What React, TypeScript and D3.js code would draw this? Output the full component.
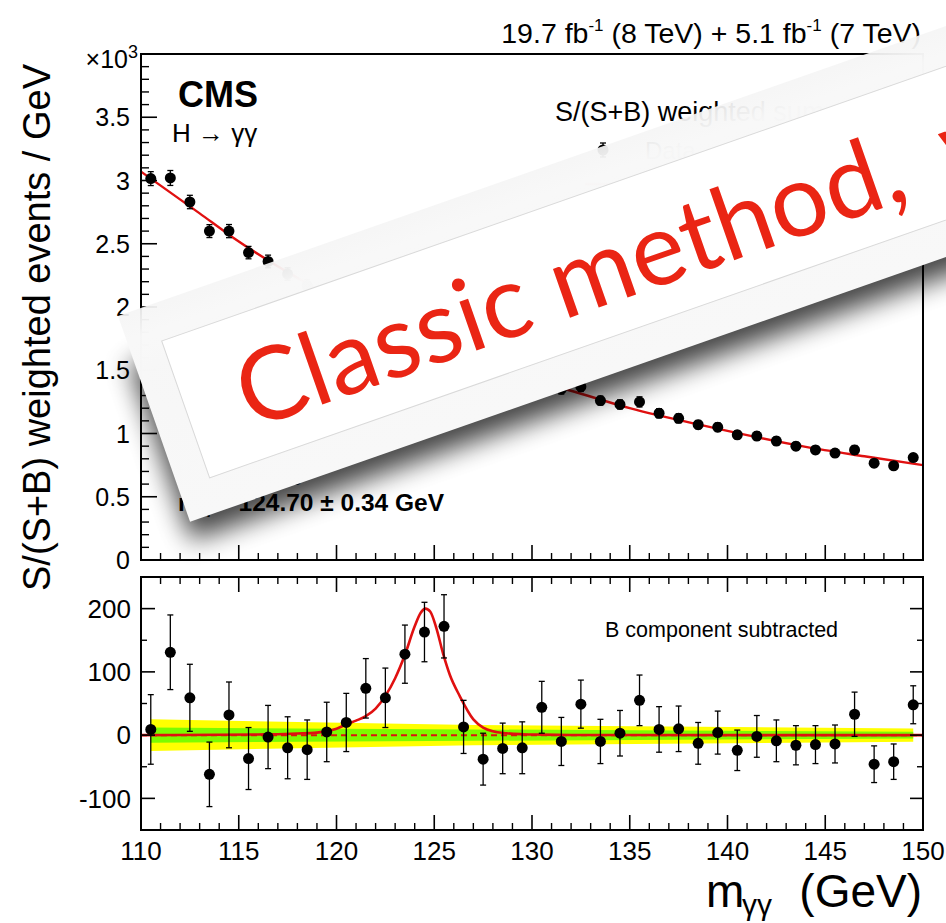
import React from 'react';
import * as d3 from 'd3';

const massBins = [110.5, 111.5, 112.5, 113.5, 114.5, 115.5, 116.5, 117.5, 118.5, 119.5, 120.5, 121.5, 122.5, 123.5, 124.5, 125.5, 126.5, 127.5, 128.5, 129.5, 130.5, 131.5, 132.5, 133.5, 134.5, 135.5, 136.5, 137.5, 138.5, 139.5, 140.5, 141.5, 142.5, 143.5, 144.5, 145.5, 146.5, 147.5, 148.5, 149.5];
// S/(S+B) weighted events / GeV, in units of 10^3
const weightedEvents = [3.015, 3.02, 2.83, 2.6, 2.6, 2.43, 2.36, 2.26, 2.17, 2.11, 2.04, 2.03, 1.95, 1.91, 1.88, 1.82, 1.6, 1.5, 1.47, 1.42, 1.44, 1.35, 1.37, 1.26, 1.23, 1.25, 1.16, 1.12, 1.07, 1.05, 0.99, 0.98, 0.94, 0.9, 0.87, 0.845, 0.87, 0.765, 0.745, 0.81];
// B component subtracted
const residuals = [9, 131, 59, -62, 32, -37, -3, -20, -23, 5, 20, 74, 59, 128, 163, 172, 13, -38, -21, -20, 44, -10, 49, -10, 3, 55, 9, 10, -13, 4, -24, -2, -9, -16, -15, -14, 33, -46, -42, 48];
const statErrors = [55, 59, 53, 51, 52, 49, 50, 49, 47, 47, 46, 47, 47, 46, 47, 50, 42, 41, 40, 41, 41, 38, 38, 35, 36, 40, 36, 36, 33, 34, 32, 33, 33, 31, 30, 30, 35, 29, 28, 30];

const sbFitMass = [110, 113, 114.7, 116.8, 118, 120, 121, 122, 123, 123.5, 124, 124.55, 125, 125.5, 126, 127, 128, 130, 131.9, 135, 138.9, 144, 147, 150];
const sbFitValue = [3.07, 2.74, 2.55, 2.34, 2.23, 2.06, 1.99, 1.93, 1.91, 1.91, 1.92, 1.915, 1.875, 1.78, 1.7, 1.59, 1.516, 1.42, 1.342, 1.2, 1.058, 0.894, 0.82, 0.75];

const sigFitMass = [110, 114, 116, 117, 118, 119, 119.5, 120, 120.5, 121, 121.5, 122, 122.5, 123, 123.5, 124, 124.3, 124.55, 124.8, 125.1, 125.46, 125.8, 126.3, 127, 127.5, 128, 128.7, 129.5, 130.5, 132, 135, 150];
const sigFitValue = [0, 0.5, 1, 1.5, 2.5, 4, 6, 10, 17, 23, 30, 42, 62, 90, 127, 172, 193, 200, 195, 170, 128, 95, 62, 25, 12, 6, 3, 1.5, 0.8, 0.3, 0.1, 0];

const bandMass = [110.5, 127, 149.5];
const band1Sigma = [12, 9, 5.3];
const band2Sigma = [25, 16, 10.5];

const xTickLabels = [110, 115, 120, 125, 130, 135, 140, 145, 150];
const topYTickLabels = [0, 0.5, 1, 1.5, 2, 2.5, 3, 3.5];
const bottomYTickLabels = [-100, 0, 100, 200];

const FONT = "'Liberation Sans', Arial, Helvetica, sans-serif";
const RED = '#e01010';

export default function App() {
  const x = d3.scaleLinear().domain([110, 150]).range([141, 923]);
  const yT = d3.scaleLinear().domain([0, 4]).range([560, 54]);
  const yB = d3.scaleLinear().domain([-150, 250]).range([830, 577]);

  const L = 141, R = 923, T1 = 54, B1 = 560, T2 = 577, B2 = 830;

  const sbLine = d3.line<number>()
    .x((_, i) => x(sbFitMass[i]))
    .y((d) => yT(d))
    .curve(d3.curveMonotoneX)(sbFitValue) || '';
  const sigLine = d3.line<number>()
    .x((_, i) => x(sigFitMass[i]))
    .y((d) => yB(d))
    .curve(d3.curveMonotoneX)(sigFitValue) || '';
  const area2 = d3.area<number>()
    .x((_, i) => x(bandMass[i]))
    .y0((d) => yB(-d))
    .y1((d) => yB(d))(band2Sigma) || '';
  const area1 = d3.area<number>()
    .x((_, i) => x(bandMass[i]))
    .y0((d) => yB(-d))
    .y1((d) => yB(d))(band1Sigma) || '';

  const xMinor = d3.range(111, 150, 1).filter((v) => v % 5 !== 0);
  const xMajor = d3.range(115, 150, 5);
  const yTMinor = d3.range(0.1, 4, 0.1).filter((v) => Math.abs(v * 2 - Math.round(v * 2)) > 1e-6);
  const yBMinor = [-50, 50, 150];

  const marker = (cx: number, cy: number, e1: number, e2: number, key: string) => (
    <g key={key}>
      <line x1={cx} x2={cx} y1={e1} y2={e2} stroke="#000" strokeWidth={1.3} />
      <line x1={cx - 3} x2={cx + 3} y1={e1} y2={e1} stroke="#000" strokeWidth={1.3} />
      <line x1={cx - 3} x2={cx + 3} y1={e2} y2={e2} stroke="#000" strokeWidth={1.3} />
      <circle cx={cx} cy={cy} r={5.5} fill="#000" />
    </g>
  );

  return (
    <svg width={946} height={923} style={{ position: 'absolute', left: 0, top: 0, background: '#fff' }} fontFamily={FONT}>
      <defs>
        <filter id="cardBlur" x="-10%" y="-40%" width="120%" height="180%">
          <feGaussianBlur stdDeviation="13" />
        </filter>
        <linearGradient id="cardGrad" x1="0" y1="0" x2="0" y2="1">
          <stop offset="0" stopColor="#f5f5f5" stopOpacity="0.93" />
          <stop offset="0.12" stopColor="#f8f8f8" stopOpacity="0.99" />
          <stop offset="1" stopColor="#f8f8f8" stopOpacity="1" />
        </linearGradient>
        <clipPath id="botClip"><rect x={L} y={T2} width={R - L} height={B2 - T2} /></clipPath>
        <clipPath id="topClip"><rect x={L} y={T1} width={R - L} height={B1 - T1} /></clipPath>
      </defs>
      <rect x={0} y={0} width={946} height={923} fill="#fff" />

      {/* ===== Top panel ===== */}
      <g clipPath="url(#topClip)">
        <path d={sbLine} fill="none" stroke={RED} strokeWidth={2.4} />
      </g>
      {massBins.map((m, i) =>
        marker(x(m), yT(weightedEvents[i]), yT(weightedEvents[i] + statErrors[i] / 1000), yT(weightedEvents[i] - statErrors[i] / 1000), 't' + i)
      )}
      <rect x={L} y={T1} width={R - L} height={B1 - T1} fill="none" stroke="#000" strokeWidth={2} />
      {topYTickLabels.map((v) => (
        <g key={'tyt' + v}>
          <line x1={L} x2={L + 16} y1={yT(v)} y2={yT(v)} stroke="#000" strokeWidth={1.6} />
          <text x={130} y={yT(v)} dy="0.36em" textAnchor="end" fontSize={25}>{v}</text>
        </g>
      ))}
      {yTMinor.map((v, i) => (
        <line key={'tym' + i} x1={L} x2={L + 8} y1={yT(v)} y2={yT(v)} stroke="#000" strokeWidth={1.4} />
      ))}
      {xMajor.map((v) => (
        <line key={'txM' + v} x1={x(v)} x2={x(v)} y1={B1} y2={B1 - 15} stroke="#000" strokeWidth={1.6} />
      ))}
      {xMinor.map((v) => (
        <line key={'txm' + v} x1={x(v)} x2={x(v)} y1={B1} y2={B1 - 7} stroke="#000" strokeWidth={1.4} />
      ))}
      <text x={128} y={68} textAnchor="end" fontSize={25}>×10</text>
      <text x={128} y={58} fontSize={18}>3</text>

      <text x={178} y={107} fontSize={36} fontWeight="bold">CMS</text>
      <text x={172} y={142} fontSize={26}>H → γγ</text>
      <text x={921} y={43} textAnchor="end" fontSize={28.5}>
        19.7 fb<tspan dy={-12} fontSize={17}>-1</tspan><tspan dy={12}> (8 TeV) + 5.1 fb</tspan><tspan dy={-12} fontSize={17}>-1</tspan><tspan dy={12}> (7 TeV)</tspan>
      </text>

      {/* legend (mostly hidden behind card) */}
      <text x={555} y={121} fontSize={27}>S/(S+B) weighted sum</text>
      {marker(603, 150, 143, 157, 'lg')}
      <text x={645} y={159} fontSize={24}>Data</text>
      <line x1={585} x2={625} y1={184} y2={184} stroke={RED} strokeWidth={2.4} />
      <text x={645} y={192} fontSize={24}>S+B fits</text>
      <line x1={585} x2={625} y1={217} y2={217} stroke={RED} strokeWidth={2.4} strokeDasharray="6,4" />
      <text x={645} y={225} fontSize={24}>B component</text>
      <rect x={585} y={240} width={40} height={16} fill="#7cfc00" />
      <text x={645} y={258} fontSize={24}>±1 σ</text>
      <rect x={585} y={273} width={40} height={16} fill="#ffff00" />
      <text x={645} y={291} fontSize={24}>±2 σ</text>

      <text x={178} y={478} fontSize={24} fontWeight="bold">μ̂ = 1.14<tspan dy={-9} fontSize={15}>+0.26</tspan><tspan dx={-38} dy={16} fontSize={15}>-0.23</tspan></text>
      <text x={178} y={511} fontSize={24.5} fontWeight="bold">m<tspan dy={6} fontSize={15}>H</tspan><tspan dy={-6}> = 124.70 ± 0.34 GeV</tspan></text>

      {/* ===== Bottom panel ===== */}
      <g clipPath="url(#botClip)">
        <path d={area2} fill="#ffff00" />
        <path d={area1} fill="#7cfc00" />
        <line x1={L} x2={R} y1={yB(0)} y2={yB(0)} stroke={RED} strokeWidth={2} strokeDasharray="6,4" />
        <path d={sigLine} fill="none" stroke={RED} strokeWidth={2.6} />
      </g>
      {massBins.map((m, i) =>
        marker(x(m), yB(residuals[i]), yB(residuals[i] + statErrors[i]), yB(residuals[i] - statErrors[i]), 'b' + i)
      )}
      <rect x={L} y={T2} width={R - L} height={B2 - T2} fill="none" stroke="#000" strokeWidth={2} />
      {bottomYTickLabels.map((v) => (
        <g key={'byt' + v}>
          <line x1={L} x2={L + 14} y1={yB(v)} y2={yB(v)} stroke="#000" strokeWidth={1.6} />
          <line x1={R} x2={R - 13} y1={yB(v)} y2={yB(v)} stroke="#000" strokeWidth={1.6} />
          <text x={131} y={yB(v)} dy="0.36em" textAnchor="end" fontSize={26}>{v}</text>
        </g>
      ))}
      {yBMinor.map((v) => (
        <g key={'bym' + v}>
          <line x1={L} x2={L + 6} y1={yB(v)} y2={yB(v)} stroke="#000" strokeWidth={1.4} />
          <line x1={R} x2={R - 6} y1={yB(v)} y2={yB(v)} stroke="#000" strokeWidth={1.4} />
        </g>
      ))}
      {xMajor.map((v) => (
        <g key={'bxM' + v}>
          <line x1={x(v)} x2={x(v)} y1={B2} y2={B2 - 15} stroke="#000" strokeWidth={1.6} />
          <line x1={x(v)} x2={x(v)} y1={T2} y2={T2 + 15} stroke="#000" strokeWidth={1.6} />
        </g>
      ))}
      {xMinor.map((v) => (
        <g key={'bxm' + v}>
          <line x1={x(v)} x2={x(v)} y1={B2} y2={B2 - 7} stroke="#000" strokeWidth={1.4} />
          <line x1={x(v)} x2={x(v)} y1={T2} y2={T2 + 7} stroke="#000" strokeWidth={1.4} />
        </g>
      ))}
      {xTickLabels.map((v) => (
        <text key={'xl' + v} x={x(v)} y={860} textAnchor="middle" fontSize={26}>{v}</text>
      ))}
      <text x={605} y={637} fontSize={21.5}>B component subtracted</text>

      {/* axis titles */}
      <text transform="translate(49.5,327.5) rotate(-90)" textAnchor="middle" fontSize={38}>S/(S+B) weighted events / GeV</text>
      <text x={706} y={907} fontSize={46}>m</text>
      <text x={742} y={915} fontSize={30}>γγ</text>
      <text x={922} y={907} textAnchor="end" fontSize={46}>(GeV)</text>

      {/* ===== Overlay card ===== */}
      <g transform="translate(118,316) rotate(-19.3)">
        <rect x={-5} y={50} width={1100} height={186} fill="#000" opacity={0.72} filter="url(#cardBlur)" />
        <rect x={0} y={0} width={1100} height={218} fill="url(#cardGrad)" />
        <rect x={33} y={38} width={1100} height={145} fill="#fff" stroke="#d9d9d9" strokeWidth={1} />
        <text x={88} y={151} fontFamily="Lato, 'Open Sans', sans-serif" fontSize={102} fill="#ea2514" textLength={700} lengthAdjust="spacing">Classic method,</text>
        <text x={832} y={151} fontFamily="Lato, 'Open Sans', sans-serif" fontSize={102} fill="#ea2514">w</text>
      </g>
    </svg>
  );
}
